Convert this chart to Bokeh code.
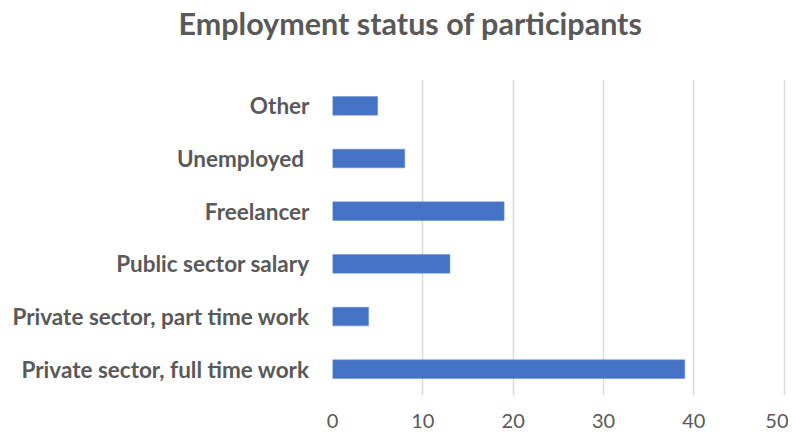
from bokeh.plotting import figure
from bokeh.models import FactorRange, Range1d, FixedTicker, LinearAxis
from bokeh.embed import file_html
from bokeh.resources import INLINE

categories = ["Private sector, full time work", "Private sector, part time work",
              "Public sector salary", "Freelancer", "Unemployed ", "Other"]
counts = [39, 4, 13, 19, 8, 5]
x_ticks = [0, 10, 20, 30, 40, 50]
title_text = "Employment status of participants"

TEXT = "#595959"
FONT = "Lato"

p = figure(width=788, height=431, output_backend="svg", toolbar_location=None,
           y_range=FactorRange(*categories, range_padding=0),
           x_range=Range1d(0, 50.15),
           min_border_left=332, min_border_right=3,
           min_border_top=79, min_border_bottom=36)
p.outline_line_color = None
p.background_fill_color = "white"
p.border_fill_color = "white"

p.hbar(y=categories, right=counts, left=0, height=0.355, color="#4472C4",
       line_color="#6F8FD0", line_width=0.5)

p.xaxis.ticker = FixedTicker(ticks=x_ticks)
p.xaxis.axis_line_color = None
p.xaxis.major_tick_line_color = None
p.xaxis.minor_tick_line_color = None
p.xaxis.major_tick_out = 0
p.xaxis.major_tick_in = 0
p.xaxis.major_label_text_font = FONT
p.xaxis.major_label_text_font_size = "20px"
p.xaxis.major_label_text_color = TEXT
p.xaxis.major_label_standoff = 18

p.yaxis.axis_line_color = None
p.yaxis.major_tick_line_color = None
p.yaxis.minor_tick_line_color = None
p.yaxis.major_tick_out = 0
p.yaxis.major_tick_in = 0
p.yaxis.major_label_text_font = FONT
p.yaxis.major_label_text_font_style = "bold"
p.yaxis.major_label_text_font_size = "22.5px"
p.yaxis.major_label_text_color = TEXT
p.yaxis.major_label_standoff = 23

p.xgrid.grid_line_color = "#D9D9D9"
p.xgrid.grid_line_width = 1.5
p.ygrid.grid_line_color = None

# invisible spacer between title and plot area (one hidden tick, no label)
spacer = LinearAxis(ticker=FixedTicker(ticks=[0]), major_tick_out=39, major_tick_in=0,
                    minor_tick_out=0, minor_tick_in=0, major_label_standoff=0,
                    major_label_overrides={0: ""}, major_label_text_font_size="0px",
                    axis_line_color=None, major_tick_line_color=None,
                    minor_tick_line_color=None)
p.add_layout(spacer, "above")

p.title.text = title_text
p.title.align = "left"
p.title.offset = -154
p.title.standoff = 0
p.title.text_font = FONT
p.title.text_font_style = "bold"
p.title.text_font_size = "30.5px"
p.title.text_color = TEXT

open("out.html", "w").write(file_html(p, INLINE))
